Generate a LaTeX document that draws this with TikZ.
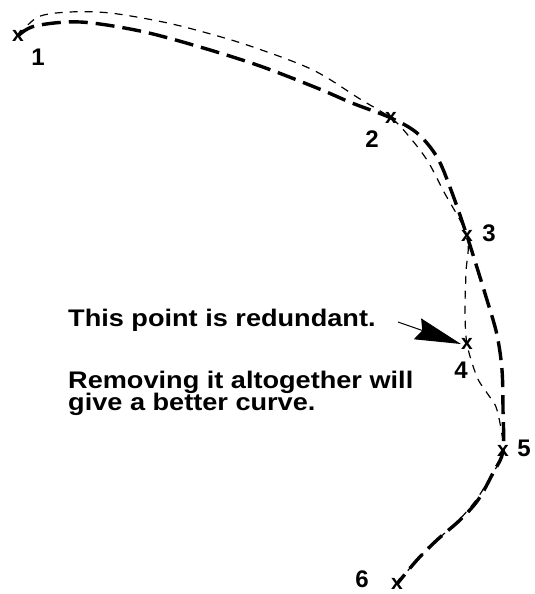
\documentclass[tikz,border=0pt]{standalone}
\usepackage{fontspec}
\newfontfamily\lsans{Liberation Sans}
\usetikzlibrary{arrows.meta}
\tikzset{
  thickcurve/.style={line width=3.4pt, dash pattern=on 19pt off 8pt, line cap=butt},
  thincurve/.style={line width=1.2pt, dash pattern=on 8pt off 7pt},
  marker/.style={inner sep=0pt, font=\lsans\bfseries\fontsize{21}{21}\selectfont},
  numlabel/.style={inner sep=0pt, font=\lsans\bfseries\fontsize{24}{24}\selectfont},
  note/.style={inner sep=0pt, anchor=base west, xscale=1.13, transform shape,
    font=\lsans\bfseries\fontsize{24}{22}\selectfont},
}
\begin{document}
\begin{tikzpicture}[x=1pt,y=-1pt]
\useasboundingbox (0,0) rectangle (535,594);
% curve points
\coordinate (p1) at (18,36);
\coordinate (p2) at (391,118);
\coordinate (p3) at (467,236);
\coordinate (p4) at (467,344);
\coordinate (p5) at (503,451);
\coordinate (p6) at (397,584);
% thin dashed curve (through all six points)
\draw[thincurve] plot[smooth, tension=0.55] coordinates {
  (p1) (38,17) (70,12) (110,13) (163,22) (207,33) (253,47) (313,70) (360,99)
  (p2) (407,134) (427,160) (444,192) (p3) (466,272) (465,310) (p4)
  (477,377) (487,393) (497,410) (p5) (491,476) (476,500) (458,521)
  (436,541) (416,561) (p6)};
% thick dashed curve (without point 4)
\draw[thickcurve] plot[smooth, tension=0.55] coordinates {
  (p1) (35,26) (80,22) (140,31) (200,47) (260,66) (317,88) (352,103)
  (p2) (417,133) (437,157) (451,190) (p3) (487,300) (497,335) (502,370)
  (503,410) (p5) (493,473) (478,500) (460,520) (437,540) (417,560) (p6)};
% markers
\node[marker] (m1) at (p1) {x};
\node[marker] (m2) at (p2) {x};
\node[marker] (m3) at (p3) {x};
\node[marker] (m4) at (p4) {x};
\node[marker] (m5) at (p5) {x};
\node[marker] (m6) at (p6) {x};
% number labels
\node[numlabel] (l1) at (38,57) {1};
\node[numlabel] (l2) at (372,139) {2};
\node[numlabel] (l3) at (489,233) {3};
\node[numlabel] (l4) at (461,370) {4};
\node[numlabel] (l5) at (524,448) {5};
\node[numlabel] (l6) at (362,579) {6};
% notes
\node[note] (t1) at (68,326) {This point is redundant.};
\node[note] (t2) at (68,388) {Removing it altogether will};
\node[note] (t3) at (68,410) {give a better curve.};
% arrow
\coordinate (a0) at (398,322);
\draw[line width=1pt, -{Stealth[length=46pt, width=22pt, inset=5pt]}]
  (a0) -- (m4.west);
\end{tikzpicture}
\end{document}
